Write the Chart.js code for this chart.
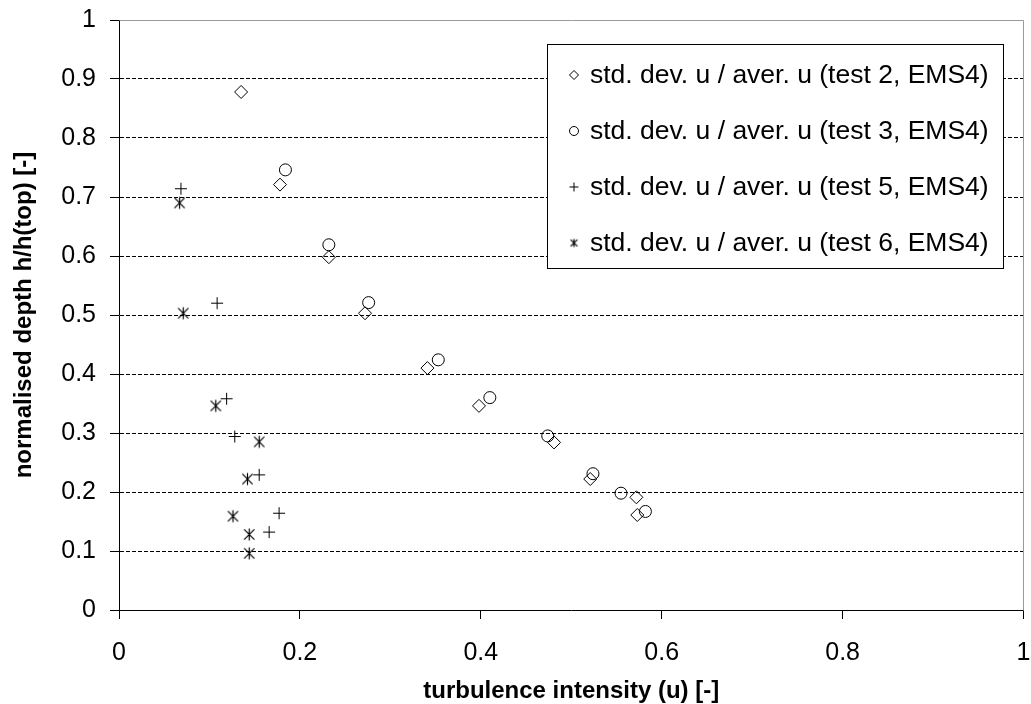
<!DOCTYPE html>
<html>
<head>
<meta charset="utf-8">
<title>turbulence intensity</title>
<script src="https://cdn.jsdelivr.net/npm/chart.js@4.4.0/dist/chart.umd.min.js"></script>
<style>
    html, body { margin: 0; padding: 0; background: #fff; }
    #wrap { width: 1031px; height: 704px; }
</style>
</head>
<body>
<div id="wrap"><canvas id="tiChart" width="1031" height="704"></canvas></div>
<script>
// values: x = turbulence intensity, y = normalised depth
const test2X = [0.135, 0.178, 0.232, 0.272, 0.341, 0.398, 0.481, 0.521, 0.572, 0.573];
const test2Y = [0.878, 0.721, 0.598, 0.503, 0.410, 0.346, 0.284, 0.222, 0.191, 0.161];

const test3X = [0.184, 0.232, 0.276, 0.353, 0.410, 0.474, 0.524, 0.555, 0.582];
const test3Y = [0.746, 0.619, 0.521, 0.424, 0.360, 0.295, 0.231, 0.198, 0.167];

const test5X = [0.0685, 0.1085, 0.119, 0.128, 0.155, 0.177, 0.166];
const test5Y = [0.714, 0.520, 0.358, 0.294, 0.229, 0.164, 0.132];

const test6X = [0.067, 0.071, 0.107, 0.155, 0.142, 0.126, 0.144, 0.144];
const test6Y = [0.690, 0.503, 0.346, 0.285, 0.222, 0.159, 0.128, 0.096];

const seriesLabels = [
    'std. dev. u / aver. u (test 2, EMS4)',
    'std. dev. u / aver. u (test 3, EMS4)',
    'std. dev. u / aver. u (test 5, EMS4)',
    'std. dev. u / aver. u (test 6, EMS4)'
];

const xTicks = [0, 0.2, 0.4, 0.6, 0.8, 1];
const yTicks = [0, 0.1, 0.2, 0.3, 0.4, 0.5, 0.6, 0.7, 0.8, 0.9, 1];

const FONT = 'Arial, "Liberation Sans", sans-serif';

const toPoints = (xs, ys) => xs.map((x, i) => ({ x: x, y: ys[i] }));

// excel style asterisk: an x with a vertical stroke
function asteriskMarker(size) {
    const c = document.createElement('canvas');
    c.width = size * 2 + 3;
    c.height = size * 2 + 3;
    const g = c.getContext('2d');
    const m = c.width / 2;
    const d = size * 0.85;
    g.strokeStyle = '#000';
    g.lineWidth = 1.2;
    g.beginPath();
    g.moveTo(m - d, m - d); g.lineTo(m + d, m + d);
    g.moveTo(m - d, m + d); g.lineTo(m + d, m - d);
    g.moveTo(m, m - size); g.lineTo(m, m + size);
    g.stroke();
    return c;
}

const star6 = asteriskMarker(6);
const star6small = asteriskMarker(4);

// legend drawn inside the plot, like the original
const boxLegend = {
    id: 'boxLegend',
    afterDraw(chart) {
        const ctx = chart.ctx;
        const left = 547, top = 44, w = 456, h = 224;
        ctx.save();
        ctx.fillStyle = '#fff';
        ctx.fillRect(left, top, w, h);
        ctx.strokeStyle = '#000';
        ctx.lineWidth = 1;
        ctx.strokeRect(left + 0.5, top + 0.5, w, h);

        ctx.font = '26.5px ' + FONT;
        ctx.textBaseline = 'middle';
        chart.data.datasets.forEach((ds, i) => {
            const y = top + 31 + i * 56;
            const style = ds.legendStyle;
            ctx.strokeStyle = '#000';
            ctx.fillStyle = 'rgba(0,0,0,0)';
            ctx.lineWidth = 1;
            if (style instanceof HTMLCanvasElement) {
                ctx.drawImage(style, 574 - style.width / 2, y - style.height / 2);
            } else {
                Chart.helpers.drawPoint(ctx, { pointStyle: style, radius: 4.5, borderWidth: 1 }, 574, y);
            }
            ctx.fillStyle = '#000';
            ctx.fillText(ds.label, 590, y + 1);
        });
        ctx.restore();
    }
};

// grey top and right edge of the plot area
const plotFrame = {
    id: 'plotFrame',
    beforeDatasetsDraw(chart) {
        const a = chart.chartArea;
        const ctx = chart.ctx;
        ctx.save();
        ctx.strokeStyle = '#9a9a9a';
        ctx.lineWidth = 1;
        ctx.beginPath();
        ctx.moveTo(Math.round(a.left) + 0.5, Math.round(a.top) + 0.5);
        ctx.lineTo(Math.round(a.right) - 0.5, Math.round(a.top) + 0.5);
        ctx.lineTo(Math.round(a.right) - 0.5, Math.round(a.bottom) + 0.5);
        ctx.stroke();
        ctx.restore();
    }
};

const chartCanvas = document.getElementById('tiChart');

new Chart(chartCanvas, {
    type: 'scatter',
    data: {
        datasets: [{
            label: seriesLabels[0],
            data: toPoints(test2X, test2Y),
            pointStyle: 'rectRot',
            legendStyle: 'rectRot',
            pointRadius: 6.5,
            borderColor: '#000',
            backgroundColor: 'rgba(0,0,0,0)',
            borderWidth: 1
        }, {
            label: seriesLabels[1],
            data: toPoints(test3X, test3Y),
            pointStyle: 'circle',
            legendStyle: 'circle',
            pointRadius: 6,
            borderColor: '#000',
            backgroundColor: 'rgba(0,0,0,0)',
            borderWidth: 1
        }, {
            label: seriesLabels[2],
            data: toPoints(test5X, test5Y),
            pointStyle: 'cross',
            legendStyle: 'cross',
            pointRadius: 6,
            borderColor: '#000',
            backgroundColor: 'rgba(0,0,0,0)',
            borderWidth: 1
        }, {
            label: seriesLabels[3],
            data: toPoints(test6X, test6Y),
            pointStyle: star6,
            legendStyle: star6small,
            pointRadius: 6,
            borderColor: '#000',
            backgroundColor: 'rgba(0,0,0,0)',
            borderWidth: 1
        }]
    },
    options: {
        responsive: false,
        animation: false,
        events: [],
        layout: {
            padding: { top: 20, right: 6, left: 0, bottom: 0 }
        },
        plugins: {
            legend: { display: false },
            tooltip: { enabled: false }
        },
        scales: {
            x: {
                type: 'linear',
                min: 0,
                max: 1,
                afterBuildTicks: (scale) => { scale.ticks = xTicks.map(v => ({ value: v })); },
                afterFit: (scale) => {
                    scale.height = 94;
                    scale.paddingLeft = 0;
                    scale.paddingRight = 0;
                },
                ticks: {
                    callback: (v) => String(v),
                    color: '#000',
                    font: { family: FONT, size: 25 },
                    padding: 19,
                    maxRotation: 0,
                    autoSkip: false
                },
                grid: {
                    drawOnChartArea: false,
                    tickLength: 9,
                    tickColor: '#000'
                },
                border: { color: '#000', width: 1 },
                title: {
                    display: true,
                    text: 'turbulence intensity (u) [-]',
                    color: '#000',
                    font: { family: FONT, size: 24, weight: 'bold' },
                    padding: { top: 0, bottom: -2 }
                }
            },
            y: {
                type: 'linear',
                min: 0,
                max: 1,
                afterBuildTicks: (scale) => { scale.ticks = yTicks.map(v => ({ value: v })); },
                afterFit: (scale) => {
                    scale.width = 119;
                    scale.paddingTop = 0;
                    scale.paddingBottom = 0;
                },
                ticks: {
                    callback: (v) => String(v),
                    color: '#000',
                    font: { family: FONT, size: 25 },
                    padding: 14,
                    autoSkip: false
                },
                grid: {
                    color: (ctx) => (ctx.tick && (ctx.tick.value === 0 || ctx.tick.value === 1)) ? 'rgba(0,0,0,0)' : '#000',
                    lineWidth: 1,
                    tickLength: 9,
                    tickColor: '#000'
                },
                border: { color: '#000', width: 1, dash: [4, 2] },
                title: {
                    display: true,
                    text: 'normalised depth h/h(top) [-]',
                    color: '#000',
                    font: { family: FONT, size: 24, weight: 'bold' },
                    padding: { top: 10, bottom: 0 }
                }
            }
        }
    },
    plugins: [plotFrame, boxLegend]
});
</script>
</body>
</html>
